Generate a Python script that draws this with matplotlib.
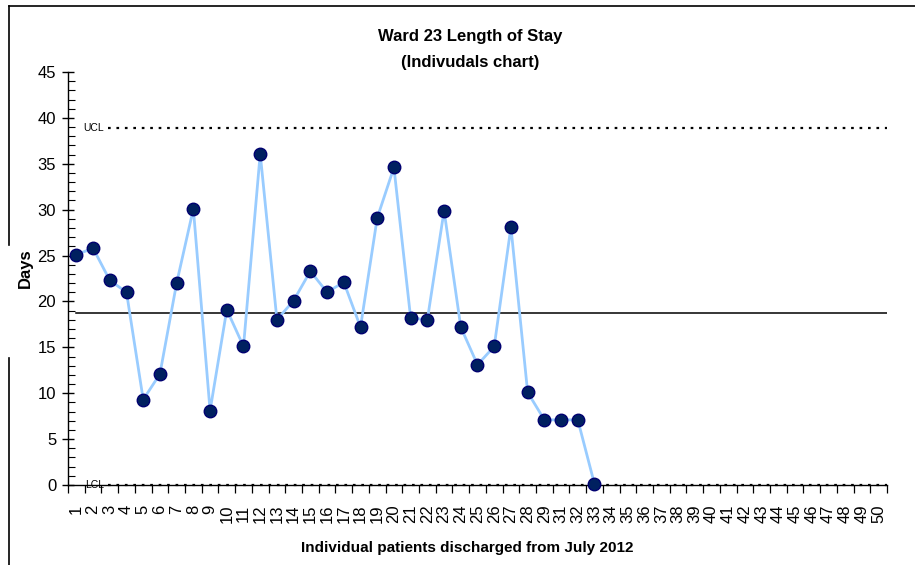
import matplotlib
matplotlib.use('Agg')
import matplotlib.pyplot as plt
from matplotlib.lines import Line2D
import numpy as np

# category labels on the x axis (no patient 30 in the source sheet)
patients = ['1', '2', '3', '4', '5', '6', '7', '8', '9', '10',
            '11', '12', '13', '14', '15', '16', '17', '18', '19', '20',
            '21', '22', '23', '24', '25', '26', '27', '28', '29', '31',
            '32', '33', '34', '35', '36', '37', '38', '39', '40', '41',
            '42', '43', '44', '45', '46', '47', '48', '49', '50']

# length of stay (days) for the discharged patients so far
los = [25.1, 25.8, 22.3, 21.0, 9.3, 12.1, 22.0, 30.1, 8.1, 19.1,
       15.1, 36.1, 18.0, 20.1, 23.3, 21.0, 22.1, 17.2, 29.1, 34.6,
       18.2, 18.0, 29.9, 17.2, 13.1, 15.1, 28.1, 10.1, 7.1, 7.1,
       7.1, 0.1]

mean_los = 18.75
ucl = 38.9
lcl = 0.0

plt.rcParams['font.family'] = ['Liberation Sans', 'DejaVu Sans']

fig = plt.figure(figsize=(9.15, 5.65), dpi=100)
ax = fig.add_axes([68 / 915, 1 - 485 / 565, (887 - 68) / 915, (485 - 72) / 565])

ncat = len(patients)
xcat = np.arange(1, ncat + 1)
xpts = xcat[:len(los)]

# control lines
ax.plot([1, ncat + 0.5], [mean_los, mean_los], color='black', lw=1.1, zorder=2)
ax.plot([2.9, ncat + 0.5], [ucl, ucl], color='black', lw=1.6, ls=(0, (1.2, 2.6)), zorder=2)
ax.plot([2.9, ncat + 0.5], [lcl, lcl], color='black', lw=1.6, ls=(0, (1.2, 2.6)), zorder=2,
        clip_on=False)
ax.text(2.65, ucl, 'UCL', fontsize=7.5, ha='right', va='center')
ax.text(2.65, lcl, 'LCL', fontsize=7.5, ha='right', va='center')

# individuals series
ax.plot(xpts, los, color='#99CCFF', lw=2.0, zorder=3)
ax.plot(xpts, los, ls='none', marker='o', markersize=9, markerfacecolor='#002060',
        markeredgecolor='#000070', markeredgewidth=1.0, zorder=4, clip_on=False)

ax.set_xlim(0.5, ncat + 0.5)
ax.set_ylim(0, 45)

# y axis: majors crossing the axis, minors inside
ax.set_yticks(np.arange(0, 46, 5))
ax.set_yticks(np.arange(0, 46, 1), minor=True)
ax.tick_params(axis='y', which='major', direction='inout', length=9, width=1,
               labelsize=12, pad=4, colors='black')
ax.tick_params(axis='y', which='minor', direction='in', length=5, width=0.8)

# x axis: labels at category centres, ticks between categories
ax.set_xticks(xcat)
ax.set_xticklabels(patients, rotation=90)
ax.set_xticks(np.arange(0.5, ncat + 1, 1), minor=True)
ax.tick_params(axis='x', which='major', length=0, labelsize=12, pad=14)
ax.tick_params(axis='x', which='minor', direction='out', length=6, width=0.9)

for side in ['top', 'right']:
    ax.spines[side].set_visible(False)
ax.spines['left'].set_linewidth(1.0)
ax.spines['bottom'].set_linewidth(1.0)

ax.set_xlabel('Individual patients discharged from July 2012', fontsize=11,
              fontweight='bold')
ax.xaxis.set_label_coords(0.488, (485 - 548) / 413)
ax.xaxis.label.set_va('center')
ax.set_ylabel('Days', fontsize=12, fontweight='bold')
ax.yaxis.set_label_coords((25 - 68) / 819, (485 - 268) / 413)
ax.yaxis.label.set_va('center')

fig.text(470 / 915, 1 - 37 / 565, 'Ward 23 Length of Stay', fontsize=12,
         fontweight='bold', ha='center', va='center')
fig.text(470 / 915, 1 - 63 / 565, '(Indivudals chart)', fontsize=12,
         fontweight='bold', ha='center', va='center')

# chart frame remnants
fig.add_artist(Line2D([9 / 915, 1], [1 - 6 / 565, 1 - 6 / 565], color='black', lw=1.2))
fig.add_artist(Line2D([9 / 915, 9 / 915], [1 - 6 / 565, 1 - 245 / 565], color='black', lw=1.2))
fig.add_artist(Line2D([9 / 915, 9 / 915], [1 - 358 / 565, 0], color='black', lw=1.2))

fig.savefig('out.png', dpi=100)
